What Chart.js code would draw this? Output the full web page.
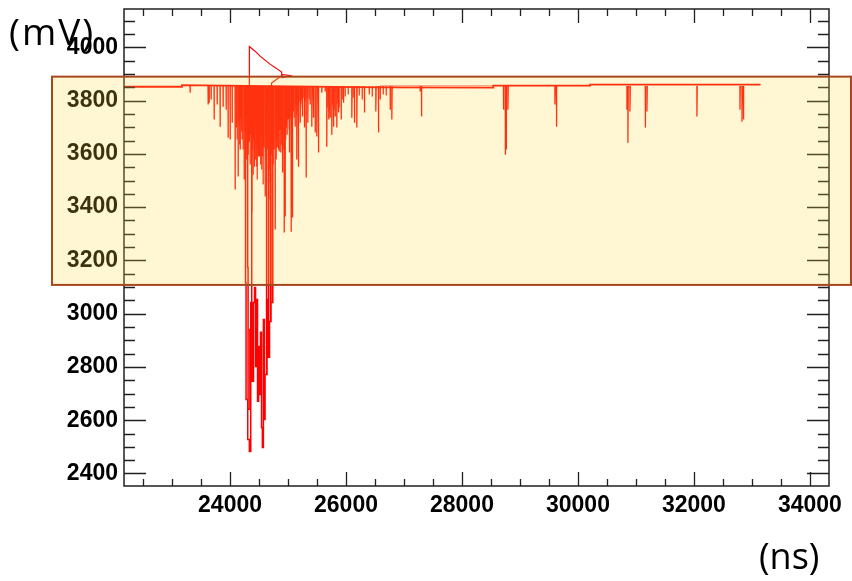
<!DOCTYPE html>
<html><head><meta charset="utf-8">
<script src="https://cdn.jsdelivr.net/npm/chart.js@4.4.0/dist/chart.umd.min.js"></script>
<style>html,body{margin:0;padding:0;background:#fff;}canvas{display:block;}</style>
</head><body>
<canvas id="c" width="852" height="581"></canvas>
<script>
// ---- axis ranges and tick labels ----
const X_MIN = 22171, X_MAX = 34330;
const Y_MIN = 2353, Y_MAX = 4144;
const xTickValues = [24000, 26000, 28000, 30000, 32000, 34000];
const yTickValues = [2400, 2600, 2800, 3000, 3200, 3400, 3600, 3800, 4000];
const xUnit = "(ns)";
const yUnit = "(mV)";

// ---- baseline of the trace (ns, mV) ----
const baseT = [22171, 23172, 23172, 26590, 28540, 28540, 30210, 30210, 33150];
const baseV = [3852, 3852, 3858, 3850, 3849, 3856, 3856, 3860, 3860];
const base2T = [26588, 28540, 29950, 30210];
const base2V = [3856, 3856, 3856, 3856];

// ---- positive pulse near 24300 ns ----
const pulseT = [24333, 24333, 24380, 24449, 24518, 24604, 24690, 24794, 24889, 24897, 25035, 24914, 24716, 24716];
const pulseV = [3852, 4003, 3995, 3982, 3967, 3952, 3937, 3922, 3907, 3886, 3894, 3898, 3866, 3852];

// ---- deep pulses (sampled traces, ns / mV); null separates traces ----
const deepT = [
  24267, 24276, 24305, 24333, 24357, 24380, 24405, 24423, 24440, 24457, 24474, 24492, 24509, 24526, 24543, 24557,
  24575, 24592, 24604, 24638, 24664, 24681, 24707, 24737, 24747, null,
  24304, 24311, 24342, 24374, 24385, null,
  24630, 24638, 24664, 24678, null,
  24699, 24707, 24721
];
const deepV = [
  3853, 3117, 2678, 2528, 2483, 3042, 2746, 3042, 3098, 2802, 3053, 2671, 2877, 2697, 2930, 2573,
  2498, 2978, 2603, 2772, 3053, 2836, 2971, 3042, 3853, null,
  3853, 3173, 2641, 2941, 3853, null,
  3853, 2772, 2903, 3853, null,
  3853, 2971, 3853
];

// ---- negative spikes: time (ns) and minimum (mV) ----
const spikeTop = 3855;
const spikeT = [
  23310, 23620, 23638, 23672, 23724, 23776, 23827, 23879, 23931, 23965, 24000, 24035, 24086, 24138, 24173, 24207, 24242,
  24374, 24419, 24461, 24488, 24547, 24561, 24509,
  24604, 24661, 24690, 24719, 24776, 24806, 24834, 24875, 24903, 24932, 24949, 24978, 25023, 25052, 25075, 25121, 25151,
  25178, 25208, 25247, 25282, 25311, 25341, 25380, 25410, 25437, 25467, 25496, 25524, 25582, 25639, 25668,
  25700, 25725, 25755, 25783, 25812, 25841, 25869, 25915, 25955, 26100, 26145, 26186, 26317, 26514, 26559, 26588, 26761, 26790,
  27278, 27301, 28715, 28746, 28763, 28792, 29603, 29629, 30845, 30862, 30897, 31161, 31190, 32052, 32794, 32829, 32854
];
const spikeLow = [
  3830, 3785, 3792, 3804, 3729, 3785, 3702, 3777, 3766, 3661, 3654, 3717, 3466, 3515, 3616, 3654, 3504,
  3380, 3552, 3552, 3590, 3541, 3590, 3590,
  3440, 3492, 3429, 3717, 3316, 3627, 3616, 3605, 3530, 3305, 3365, 3755, 3605, 3308, 3361, 3702, 3579,
  3552, 3717, 3740, 3699, 3511, 3717, 3785, 3702, 3736, 3680, 3665, 3605, 3830, 3834, 3627,
  3729, 3736, 3672, 3702, 3740, 3699, 3755, 3729, 3792, 3736, 3717, 3699, 3755, 3759, 3680, 3804, 3766, 3729,
  3834, 3740, 3766, 3597, 3616, 3766, 3785, 3702, 3766, 3642, 3759, 3699, 3759, 3740, 3766, 3721, 3729
];

// dense burst of small spikes
const burstT = [
  24104, 24121, 24147, 24164, 24181, 24198, 24224, 24250, 24259, 24285, 24302, 24311, 24328, 24345, 24362, 24380, 24397,
  24414, 24440, 24449, 24466, 24483, 24500, 24526, 24535, 24552, 24569, 24587, 24612, 24621, 24647, 24656, 24673, 24699,
  24716, 24725, 24742, 24759, 24785, 24794, 24811, 24828, 24846, 24863, 24880, 24897, 24914, 24940, 24957, 24966, 24983,
  25000, 25018, 25035, 25061, 25070, 25087, 25104, 25130, 25139, 25156, 25173, 25190, 25216, 25225, 25242, 25259, 25294,
  25328, 25363, 25673, 25708, 25760, 25794, 25846, 25880, 25932, 25984, 26036, 26122, 26226, 26278, 26399, 26451, 26640, 26692
];
const burstLow = [
  3699, 3654, 3721, 3635, 3736, 3684, 3616, 3706, 3661, 3579, 3691, 3597, 3646, 3560, 3672, 3616, 3522,
  3654, 3579, 3635, 3504, 3616, 3672, 3560, 3646, 3597, 3485, 3624, 3661, 3579, 3616, 3654, 3541, 3635,
  3597, 3672, 3560, 3616, 3654, 3579, 3624, 3661, 3609, 3691, 3635, 3672, 3616, 3710, 3654, 3699, 3672,
  3729, 3691, 3736, 3706, 3721, 3759, 3736, 3774, 3747, 3785, 3759, 3796, 3774, 3804, 3789, 3811, 3796,
  3811, 3804, 3774, 3759, 3785, 3766, 3789, 3774, 3804, 3815, 3823, 3811, 3819, 3804, 3823, 3815, 3823, 3819
];

// ---- highlight band (mV) ----
const bandTopMV = 3890, bandBottomMV = 3108;

// ---- build datasets ----
function pairs(ts, vs) { return ts.map((t, i) => ({x: t === null ? ts[i - 1] : t, y: vs[i]})); }
function spikes(ts, lows, w) {
  const out = [];
  ts.forEach((t, i) => {
    out.push({x: t, y: spikeTop}, {x: t, y: lows[i]}, {x: t + w, y: spikeTop}, {x: t + w, y: null});
  });
  return out;
}
const RED = '#ff0000';
const lineDs = (data, w, c, stepped) => ({data, showLine: true, borderColor: c || RED, borderWidth: w, pointRadius: 0, spanGaps: false, fill: false, tension: 0, stepped: stepped || false});

const tickFont = {family: 'Liberation Sans', weight: 'bold', size: 23};

const framePlugin = {
  id: 'frame',
  afterDatasetsDraw(chart) {
    const {ctx, chartArea: a, scales: {x, y}} = chart;
    ctx.save();
    ctx.strokeStyle = '#202020';
    ctx.lineWidth = 1.5;
    ctx.strokeRect(a.left, a.top, a.right - a.left, a.bottom - a.top);
    ctx.lineWidth = 1.3;
    ctx.beginPath();
    for (let v = Math.ceil(X_MIN / 500) * 500; v <= X_MAX; v += 500) {
      const px = Math.round(x.getPixelForValue(v)) + 0.5;
      const len = (v % 2000 === 0) ? 14 : 7;
      ctx.moveTo(px, a.bottom); ctx.lineTo(px, a.bottom - len);
      ctx.moveTo(px, a.top); ctx.lineTo(px, a.top + len);
    }
    for (let v = Math.ceil(Y_MIN / 50) * 50; v <= Y_MAX; v += 50) {
      const py = Math.round(y.getPixelForValue(v)) + 0.5;
      const len = (v % 200 === 0) ? 22 : 11;
      ctx.moveTo(a.left, py); ctx.lineTo(a.left + len, py);
      ctx.moveTo(a.right, py); ctx.lineTo(a.right - len, py);
    }
    ctx.stroke();
    ctx.restore();
  },
  afterDraw(chart) {
    const {ctx, scales: {y}} = chart;
    const top = y.getPixelForValue(bandTopMV), bot = y.getPixelForValue(bandBottomMV);
    ctx.save();
    ctx.fillStyle = 'rgba(255,216,68,0.23)';
    ctx.fillRect(52, top, 851 - 52, bot - top);
    ctx.strokeStyle = '#a8471e';
    ctx.lineWidth = 2;
    ctx.strokeRect(52, top, 851 - 52, bot - top);
    ctx.fillStyle = '#000';
    ctx.font = '37px "Open Sans"';
    ctx.textBaseline = 'alphabetic';
    ctx.textAlign = 'left';
    try { ctx.letterSpacing = '2px'; } catch (e) {}
    ctx.fillText(yUnit, 9, 45);
    try { ctx.letterSpacing = '0px'; } catch (e) {}
    ctx.font = '36px "Open Sans"';
    ctx.fillText(xUnit, 759, 569);
    ctx.restore();
  }
};

new Chart(document.getElementById('c'), {
  type: 'scatter',
  data: {
    datasets: [
      lineDs(pairs(base2T, base2V), 1, 'rgba(255,0,0,0.5)'),
      lineDs(pairs(baseT, baseV), 1.8),
      lineDs(spikes(burstT, burstLow, 5), 1.2),
      lineDs(spikes(spikeT, spikeLow, 6), 1.3),
      lineDs(pairs(deepT, deepV), 1.5, RED, 'after'),
      lineDs(pairs(pulseT, pulseV), 1.2)
    ]
  },
  options: {
    responsive: false, animation: false, devicePixelRatio: 1,
    layout: {padding: {top: 9, right: 23, left: 0, bottom: 0}},
    plugins: {legend: {display: false}, tooltip: {enabled: false}},
    scales: {
      x: {
        type: 'linear', min: X_MIN, max: X_MAX,
        grid: {display: false, drawTicks: false}, border: {display: false},
        afterBuildTicks: s => { s.ticks = xTickValues.map(v => ({value: v})); },
        afterFit: s => { s.height = 95; s.paddingLeft = 0; s.paddingRight = 0; },
        ticks: {font: tickFont, color: '#000', padding: 6, maxRotation: 0, autoSkip: false, callback: v => String(v)}
      },
      y: {
        type: 'linear', min: Y_MIN, max: Y_MAX,
        grid: {display: false, drawTicks: false}, border: {display: false},
        afterBuildTicks: s => { s.ticks = yTickValues.map(v => ({value: v})); },
        afterFit: s => { s.width = 124; s.paddingTop = 0; s.paddingBottom = 0; },
        ticks: {font: tickFont, color: '#000', padding: 6, autoSkip: false, callback: v => String(v)}
      }
    }
  },
  plugins: [framePlugin]
});
</script>
</body></html>
